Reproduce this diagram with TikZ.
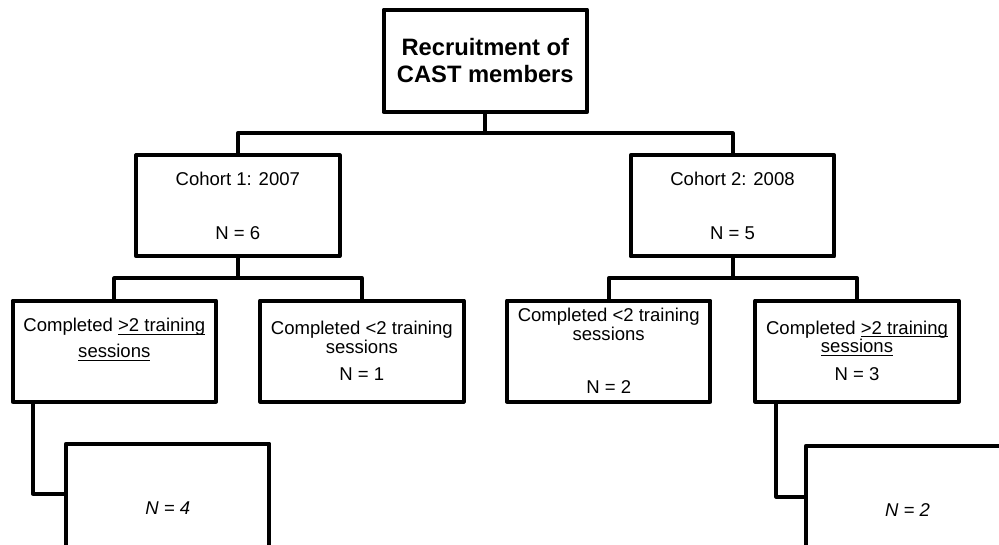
\documentclass[tikz,border=0pt]{standalone}
\usepackage{fontspec}
\setmainfont{Liberation Sans}
\newsavebox{\undlbox}
\newcommand{\undl}[1]{\sbox{\undlbox}{#1}\rlap{\rule[-2.4pt]{\wd\undlbox}{0.9pt}}\usebox{\undlbox}}
\usetikzlibrary{calc}
\begin{document}
\begin{tikzpicture}[x=0.75pt,y=-0.75pt,line width=3pt,line join=round,
    box/.style={draw,rectangle,minimum width=152.6pt,minimum height=75.75pt,
      align=center,font=\fontsize{13.9pt}{14pt}\selectfont},
    endbox/.style={box,minimum height=96.3pt,font=\fontsize{13.9pt}{14pt}\selectfont\itshape}]
  \useasboundingbox (0,0) rectangle (999,545);
  \clip (0,0) rectangle (999,545);
  \draw
    (485.3,60.8) node[box,minimum height=76.9pt,font=\fontsize{17.8pt}{20.25pt}\selectfont\bfseries] (recruit){Recruitment of\\CAST members}
    (237.8,205.8) node[box] (cohortA){Cohort 1: 2007\\[26.5pt]N = 6}
    (732.5,205.8) node[box] (cohortB){Cohort 2: 2008\\[26.5pt]N = 5}
    (114.3,351) node[box] (doneA){Completed \undl{>2 training}\\[5.5pt]\undl{sessions}\\[5.5pt]\mbox{}}
    (361.8,351) node[box] (fewA){Completed <2 training\\sessions\\[6.25pt]N = 1}
    (608.7,351) node[box] (fewB){Completed <2 training\\sessions\\[25.75pt]N = 2}
    (857,351) node[box] (doneB){Completed \undl{>2 training}\\\undl{sessions}\\[7pt]N = 3}
    (167.7,508) node[endbox] (resA){N = 4}
    (907.5,510) node[endbox] (resB){N = 2};
  \begin{scope}[-]
    \draw (recruit.south) -- ++(0,19.3);
    \draw (cohortA.north) -- ++(0,-20.2) -| (cohortB.north);
    \draw (cohortA.south) -- ++(0,20.2);
    \draw (doneA.north) -- ++(0,-20.3) -| (fewA.north);
    \draw (cohortB.south) -- ++(0,20.2);
    \draw (fewB.north) -- ++(0,-20.3) -| (doneB.north);
    \draw ($(doneA.south west)+(22.6,0)$) |- ($(resA.north west)+(0,52)$);
    \draw ($(doneB.south west)+(23,0)$) |- ($(resB.north west)+(0,52.7)$);
  \end{scope}
\end{tikzpicture}
\end{document}
